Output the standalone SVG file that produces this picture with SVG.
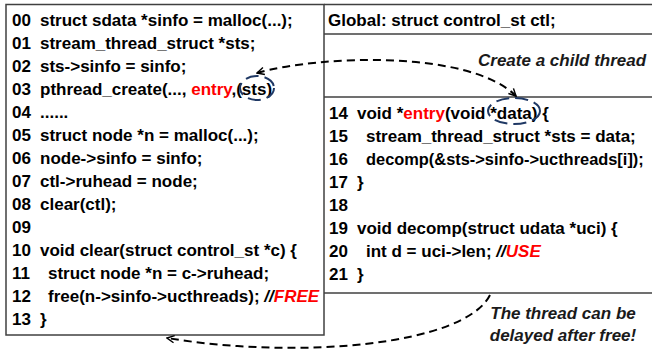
<svg xmlns="http://www.w3.org/2000/svg" width="652" height="352" viewBox="0 0 652 352">
<style>
.code{font-family:"Liberation Sans",Arial,sans-serif;font-weight:bold;font-size:17px;fill:#000}
.red{fill:#ff0000}
.it{font-style:italic}
.lbl{font-family:"Liberation Sans",Arial,sans-serif;font-weight:bold;font-style:italic;font-size:17px;fill:#1a1a1a}
.box{fill:none;stroke:#404040;stroke-width:1.5}
.arrow{fill:none;stroke:#000;stroke-width:2;stroke-dasharray:8,5}
.ring{fill:none;stroke:#1f3864;stroke-width:2;stroke-dasharray:13,6}
</style>
<defs>
<marker id="ah" viewBox="0 0 10 10" refX="9" refY="5" markerWidth="9" markerHeight="9" markerUnits="userSpaceOnUse" orient="auto-start-reverse">
<path d="M1,1 L9,5 L1,9" fill="none" stroke="#000" stroke-width="1.6"/>
</marker>
</defs>
<rect width="652" height="352" fill="#fff"/>

<g id="main-code">
<rect class="box" x="6" y="4.5" width="318" height="330.5"/>
<text class="code" y="26"><tspan x="12">00</tspan><tspan x="40">struct sdata *sinfo = malloc(...);</tspan></text>
<text class="code" y="49"><tspan x="12">01</tspan><tspan x="40">stream_thread_struct *sts;</tspan></text>
<text class="code" y="72"><tspan x="12">02</tspan><tspan x="40">sts-&gt;sinfo = sinfo;</tspan></text>
<text class="code" y="95"><tspan x="12">03</tspan><tspan x="40">pthread_create(..., </tspan><tspan class="red">entry</tspan><tspan>,(sts)</tspan></text>
<text class="code" y="118"><tspan x="12">04</tspan><tspan x="40">......</tspan></text>
<text class="code" y="141"><tspan x="12">05</tspan><tspan x="40">struct node *n = malloc(...);</tspan></text>
<text class="code" y="164"><tspan x="12">06</tspan><tspan x="40">node-&gt;sinfo = sinfo;</tspan></text>
<text class="code" y="187"><tspan x="12">07</tspan><tspan x="40">ctl-&gt;ruhead = node;</tspan></text>
<text class="code" y="210"><tspan x="12">08</tspan><tspan x="40">clear(ctl);</tspan></text>
<text class="code" y="233"><tspan x="12">09</tspan></text>
<text class="code" y="256"><tspan x="12">10</tspan><tspan x="40">void clear(struct control_st *c) {</tspan></text>
<text class="code" y="279"><tspan x="12">11</tspan><tspan x="48">struct node *n = c-&gt;ruhead;</tspan></text>
<text class="code" y="302"><tspan x="12">12</tspan><tspan x="48">free(n-&gt;sinfo-&gt;ucthreads); </tspan><tspan class="it">//</tspan><tspan class="it red">FREE</tspan></text>
<text class="code" y="325"><tspan x="12">13</tspan><tspan x="40">}</tspan></text>
</g>

<g id="global">
<line class="box" x1="324" y1="4.5" x2="652" y2="4.5"/>
<line class="box" x1="324" y1="34" x2="652" y2="34"/>
<text class="code" x="328" y="26">Global: struct control_st ctl;</text>
</g>

<g id="thread-code">
<line class="box" x1="324" y1="97" x2="652" y2="97"/>
<line class="box" x1="324" y1="293" x2="652" y2="293"/>
<text class="code" y="119"><tspan x="329">14</tspan><tspan x="357">void *</tspan><tspan class="red">entry</tspan><tspan>(void *data) {</tspan></text>
<text class="code" y="142"><tspan x="329">15</tspan><tspan x="366">stream_thread_struct *sts = data;</tspan></text>
<text class="code" y="165"><tspan x="329">16</tspan><tspan x="366" style="font-size:16.4px">decomp(&amp;sts-&gt;sinfo-&gt;ucthreads[i]);</tspan></text>
<text class="code" y="188"><tspan x="329">17</tspan><tspan x="357">}</tspan></text>
<text class="code" y="211"><tspan x="329">18</tspan></text>
<text class="code" y="234"><tspan x="329">19</tspan><tspan x="357">void decomp(struct udata *uci) {</tspan></text>
<text class="code" y="257"><tspan x="329">20</tspan><tspan x="366">int d = uci-&gt;len; </tspan><tspan class="it">//</tspan><tspan class="it red">USE</tspan></text>
<text class="code" y="280"><tspan x="329">21</tspan><tspan x="357">}</tspan></text>
</g>

<g id="labels">
<text class="lbl" x="478" y="66">Create a child thread</text>
<text class="lbl" x="563" y="319" text-anchor="middle">The thread can be</text>
<text class="lbl" x="563" y="341" text-anchor="middle">delayed after free!</text>
</g>

<g id="connectors">
<ellipse class="ring" cx="257" cy="88" rx="17" ry="12"/>
<ellipse class="ring" cx="514" cy="111" rx="26" ry="13"/>
<path class="arrow" d="M257,73 C320,55 470,50 516,96" marker-start="url(#ah)" marker-end="url(#ah)"/>
<path class="arrow" d="M490,295 C465,345 300,360 167,338" marker-end="url(#ah)"/>
</g>
</svg>
